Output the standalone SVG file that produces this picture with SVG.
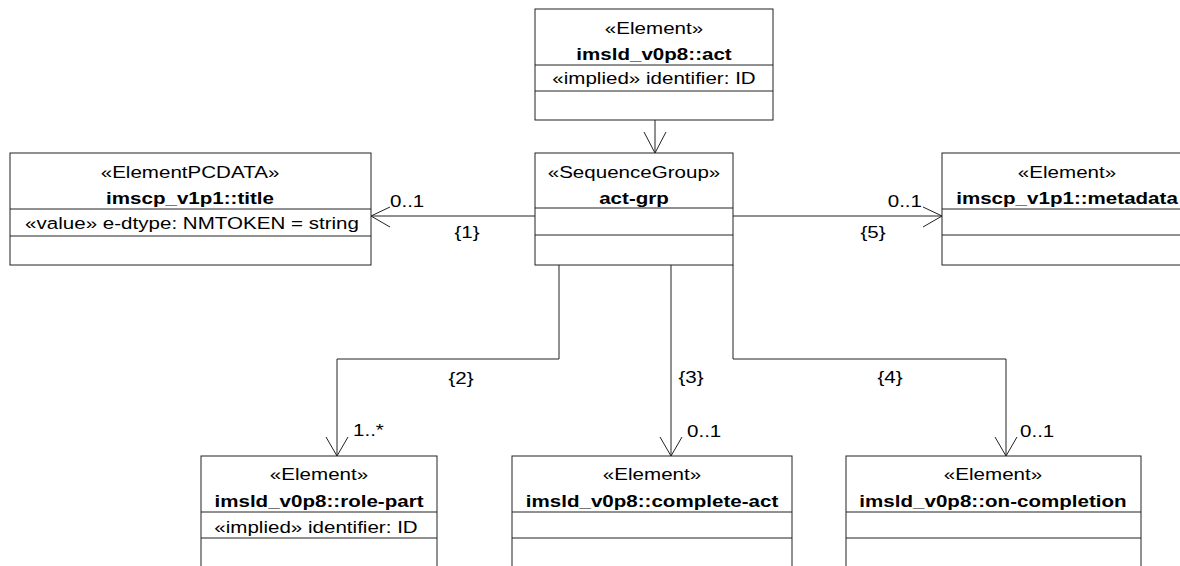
<svg xmlns="http://www.w3.org/2000/svg" width="1180" height="566" viewBox="0 0 1180 566">
<style>
  .box { fill: #ffffff; stroke: #222222; stroke-width: 1; }
  .sep { stroke: #222222; stroke-width: 1; fill: none; }
  .conn { stroke: #222222; stroke-width: 1; fill: none; }
  text { font-family: "Liberation Sans", Arial, sans-serif; font-size: 17px; fill: #000000; }
  .c { text-anchor: middle; }
  .s { text-anchor: start; }
  .e { text-anchor: end; }
  .b { font-weight: bold; }
</style>
<rect x="0" y="0" width="1180" height="566" fill="#ffffff"/>

<g id="connectors">
  <!-- act -> act-grp -->
  <path class="conn" d="M655,120 L655,153"/>
  <path class="conn" d="M644,132 L655,153 L666,132"/>
  <!-- {1} act-grp -> title -->
  <path class="conn" d="M535,216 L371,216"/>
  <path class="conn" d="M390,207 L371,216 L390,227"/>
  <text class="s" transform="translate(390,207) scale(1.21,1)">0..1</text>
  <text class="c" transform="translate(467,238) scale(1.21,1)">{1}</text>
  <!-- {5} act-grp -> metadata -->
  <path class="conn" d="M733,216 L942,216"/>
  <path class="conn" d="M923,207 L942,216 L923,227"/>
  <text class="e" transform="translate(922,207) scale(1.21,1)">0..1</text>
  <text class="c" transform="translate(873,238) scale(1.21,1)">{5}</text>
  <!-- {2} act-grp -> role-part -->
  <path class="conn" d="M559,265 L559,359 L337,359 L337,456"/>
  <path class="conn" d="M326,437 L337,456 L348,437"/>
  <text class="c" transform="translate(461,384) scale(1.21,1)">{2}</text>
  <text class="s" transform="translate(353,436) scale(1.21,1)">1..*</text>
  <!-- {3} act-grp -> complete-act -->
  <path class="conn" d="M671,265 L671,456"/>
  <path class="conn" d="M660,437 L671,456 L682,437"/>
  <text class="c" transform="translate(691,383) scale(1.21,1)">{3}</text>
  <text class="s" transform="translate(687,437) scale(1.21,1)">0..1</text>
  <!-- {4} act-grp -> on-completion -->
  <path class="conn" d="M733,265 L733,359 L1006,359 L1006,456"/>
  <path class="conn" d="M995,437 L1006,456 L1017,437"/>
  <text class="c" transform="translate(890,383) scale(1.21,1)">{4}</text>
  <text class="s" transform="translate(1020,437) scale(1.21,1)">0..1</text>
</g>

<g id="act">
  <rect class="box" x="535" y="9" width="238" height="111"/>
  <line class="sep" x1="535" y1="65" x2="773" y2="65"/>
  <line class="sep" x1="535" y1="91" x2="773" y2="91"/>
  <text class="c" transform="translate(654,34) scale(1.21,1)">«Element»</text>
  <text class="c b" transform="translate(654,60) scale(1.21,1)">imsld_v0p8::act</text>
  <text class="c" transform="translate(654,84) scale(1.21,1)">«implied» identifier: ID</text>
</g>

<g id="act-grp">
  <rect class="box" x="535" y="153" width="198" height="112"/>
  <line class="sep" x1="535" y1="208" x2="733" y2="208"/>
  <line class="sep" x1="535" y1="235" x2="733" y2="235"/>
  <text class="c" transform="translate(634,178) scale(1.21,1)">«SequenceGroup»</text>
  <text class="c b" transform="translate(634,204) scale(1.21,1)">act-grp</text>
</g>

<g id="title">
  <rect class="box" x="10" y="153" width="361" height="112"/>
  <line class="sep" x1="10" y1="209" x2="371" y2="209"/>
  <line class="sep" x1="10" y1="236" x2="371" y2="236"/>
  <text class="c" transform="translate(190,178) scale(1.21,1)">«ElementPCDATA»</text>
  <text class="c b" transform="translate(190,204) scale(1.21,1)">imscp_v1p1::title</text>
  <text class="c" transform="translate(192,229) scale(1.21,1)">«value» e-dtype: NMTOKEN = string</text>
</g>

<g id="metadata">
  <rect class="box" x="942" y="153" width="250" height="112"/>
  <line class="sep" x1="942" y1="209" x2="1192" y2="209"/>
  <line class="sep" x1="942" y1="235" x2="1192" y2="235"/>
  <text class="c" transform="translate(1067,178) scale(1.21,1)">«Element»</text>
  <text class="c b" transform="translate(1067,204) scale(1.21,1)">imscp_v1p1::metadata</text>
</g>

<g id="role-part">
  <rect class="box" x="201" y="456" width="236" height="112"/>
  <line class="sep" x1="201" y1="512" x2="437" y2="512"/>
  <line class="sep" x1="201" y1="538" x2="437" y2="538"/>
  <text class="c" transform="translate(319,480) scale(1.21,1)">«Element»</text>
  <text class="c b" transform="translate(319,507) scale(1.21,1)">imsld_v0p8::role-part</text>
  <text class="c" transform="translate(316,533) scale(1.21,1)">«implied» identifier: ID</text>
</g>

<g id="complete-act">
  <rect class="box" x="512" y="456" width="280" height="112"/>
  <line class="sep" x1="512" y1="512" x2="792" y2="512"/>
  <line class="sep" x1="512" y1="538" x2="792" y2="538"/>
  <text class="c" transform="translate(652,480) scale(1.21,1)">«Element»</text>
  <text class="c b" transform="translate(652,507) scale(1.21,1)">imsld_v0p8::complete-act</text>
</g>

<g id="on-completion">
  <rect class="box" x="846" y="456" width="295" height="112"/>
  <line class="sep" x1="846" y1="512" x2="1141" y2="512"/>
  <line class="sep" x1="846" y1="538" x2="1141" y2="538"/>
  <text class="c" transform="translate(993,480) scale(1.21,1)">«Element»</text>
  <text class="c b" transform="translate(993,507) scale(1.21,1)">imsld_v0p8::on-completion</text>
</g>
</svg>
